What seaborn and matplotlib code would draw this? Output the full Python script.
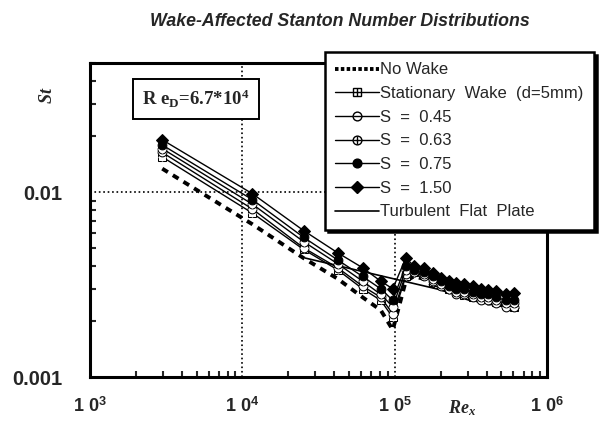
import numpy as np
import matplotlib
matplotlib.use('Agg')
import matplotlib.pyplot as plt
import seaborn as sns
from matplotlib.lines import Line2D
from matplotlib.ticker import LogLocator, NullFormatter

# Re_x stations
re_x = [2980, 11650, 25200, 42200, 61500, 80900, 97000, 118000, 133000, 155000,
        178000, 201000, 227000, 252000, 284000, 326000, 368000, 409000, 462000,
        537000, 607000]

st_nowake = [0.0134, 0.0067, 0.0044, 0.0034, 0.0027, 0.0023, 0.0018, 0.0033, 0.0035,
             0.0034, 0.0031, 0.0030, 0.0029, 0.0028, 0.0027, 0.0026, 0.0026, 0.0025,
             0.0025, 0.0024, 0.0023]
st_stationary = [0.0155, 0.0077, 0.0049, 0.0038, 0.0030, 0.0026, 0.0021, 0.0035, 0.0037,
                 0.0036, 0.00326, 0.00314, 0.0030, 0.00288, 0.00278, 0.0027, 0.0027,
                 0.00264, 0.00254, 0.00245, 0.00239]
st_s045 = [0.0164, 0.0081, 0.0050, 0.0039, 0.0031, 0.0027, 0.0022, 0.0036, 0.0037,
           0.0035, 0.0033, 0.0031, 0.0030, 0.0028, 0.0028, 0.0027, 0.0026, 0.0026,
           0.0025, 0.0024, 0.0024]
st_s063 = [0.0172, 0.0086, 0.0054, 0.0041, 0.0033, 0.0028, 0.0024, 0.0038, 0.0037,
           0.0036, 0.0034, 0.0032, 0.0030, 0.0029, 0.0029, 0.0028, 0.0027, 0.0027,
           0.0026, 0.0025, 0.0025]
st_s075 = [0.0180, 0.0091, 0.0057, 0.0043, 0.0035, 0.0030, 0.0026, 0.0040, 0.0038,
           0.0037, 0.0035, 0.0033, 0.0031, 0.0030, 0.0030, 0.0029, 0.0028, 0.0028,
           0.0027, 0.0026, 0.0026]
st_s150 = [0.0192, 0.0098, 0.0062, 0.0047, 0.0039, 0.0033, 0.0030, 0.0044, 0.0040,
           0.0039, 0.00365, 0.00343, 0.0033, 0.00322, 0.0032, 0.0031, 0.0030, 0.00296,
           0.00292, 0.00280, 0.00285]

# turbulent flat plate correlation line (end points)
re_turb = [25900, 650000]
st_turb = [0.0044, 0.00236]

xticks = [1e3, 1e4, 1e5, 1e6]
xticklabels = [r'1 0$^{\mathrm{3}}$', r'1 0$^{\mathrm{4}}$', r'1 0$^{\mathrm{5}}$', r'1 0$^{\mathrm{6}}$']
yticks = [0.001, 0.01]
yticklabels = ['0.001', '0.01']

sns.set_style('ticks')
plt.rcParams['font.family'] = ['Liberation Sans', 'DejaVu Sans']
plt.rcParams['mathtext.fontset'] = 'custom'
plt.rcParams['mathtext.rm'] = 'Liberation Sans:bold'
plt.rcParams['mathtext.bf'] = 'Liberation Serif:bold'
plt.rcParams['mathtext.it'] = 'Liberation Serif:italic:bold'

fig = plt.figure(figsize=(6.08, 4.28), dpi=100)
ax = fig.add_axes([0.148, 0.119, 0.752, 0.734])
ax.set_xscale('log')
ax.set_yscale('log')

ms = 6.3
sns.lineplot(x=re_x, y=st_nowake, ax=ax, color='black', lw=2.8,
             linestyle=(0, (1.7, 1.5)), errorbar=None, zorder=2)
sns.lineplot(x=re_turb, y=st_turb, ax=ax, color='black', lw=1.2, errorbar=None, zorder=2)

# stationary wake: square with cross
sns.lineplot(x=re_x, y=st_stationary, ax=ax, color='black', lw=1, marker='s', ms=ms,
             mfc='white', mec='black', errorbar=None, zorder=3)
sns.lineplot(x=re_x, y=st_stationary, ax=ax, color='black', linestyle='none', marker='+',
             ms=ms, mew=1, errorbar=None, zorder=3)
# S = 0.45: circle with bar
sns.lineplot(x=re_x, y=st_s045, ax=ax, color='black', lw=1, marker='o', ms=ms,
             mfc='white', mec='black', errorbar=None, zorder=4)
sns.lineplot(x=re_x, y=st_s045, ax=ax, color='black', linestyle='none', marker='_',
             ms=ms, mew=1, errorbar=None, zorder=4)
# S = 0.63: circle with plus
sns.lineplot(x=re_x, y=st_s063, ax=ax, color='black', lw=1, marker='o', ms=ms,
             mfc='white', mec='black', errorbar=None, zorder=5)
sns.lineplot(x=re_x, y=st_s063, ax=ax, color='black', linestyle='none', marker='+',
             ms=ms, mew=1, errorbar=None, zorder=5)
# S = 0.75: filled circle
sns.lineplot(x=re_x, y=st_s075, ax=ax, color='black', lw=1, marker='o', ms=ms,
             mfc='black', mec='black', errorbar=None, zorder=6)
# S = 1.50: filled diamond
sns.lineplot(x=re_x, y=st_s150, ax=ax, color='black', lw=1, marker='D', ms=ms,
             mfc='black', mec='black', errorbar=None, zorder=7)

ax.set_xlim(1e3, 1e6)
ax.set_ylim(0.001, 0.05)
ax.set_xticks(xticks)
ax.set_xticklabels(xticklabels, fontsize=13, fontweight='bold')
ax.set_yticks(yticks)
ax.set_yticklabels(yticklabels, fontsize=14.5, fontweight='bold')
ax.xaxis.set_minor_locator(LogLocator(base=10, subs=np.arange(2, 10)))
ax.yaxis.set_minor_locator(LogLocator(base=10, subs=np.arange(2, 10)))
ax.xaxis.set_minor_formatter(NullFormatter())
ax.yaxis.set_minor_formatter(NullFormatter())
ax.tick_params(which='major', direction='in', length=0)
ax.tick_params(axis='x', which='major', pad=14)
ax.tick_params(axis='y', which='major', pad=20)
ax.tick_params(which='minor', direction='in', length=4, width=1.5)
ax.grid(which='major', linestyle=':', color='black', lw=1.2)
for sp in ax.spines.values():
    sp.set_linewidth(2.2)
    sp.set_color('black')
ax.set_xlabel('')
ax.set_ylabel('')

fig.text(340 / 608, 1 - 22 / 428, 'Wake-Affected Stanton Number Distributions',
         ha='center', va='center', fontsize=12.8, fontweight='bold', style='italic')
fig.text(47 / 608, 1 - 95 / 428, r'$St$', rotation=90, ha='center', va='center', fontsize=13)
fig.text(462 / 608, 1 - 408 / 428, r'$Re_x$', ha='center', va='center', fontsize=13)

ax.text(0.232, 0.885, r'R e$_{\mathbf{D}}$=6.7*10$^{\mathbf{4}}$', transform=ax.transAxes,
        ha='center', va='center', family='Liberation Serif', fontweight='bold', fontsize=13.5,
        bbox=dict(boxstyle='square,pad=0.5', fc='white', ec='black', lw=1.4), zorder=10)

handles = [
    Line2D([], [], color='black', lw=2.8, linestyle=(0, (0.9, 0.6))),
    (Line2D([], [], color='black', lw=1, marker='s', ms=ms, mfc='white', mec='black'),
     Line2D([], [], color='black', linestyle='none', marker='+', ms=ms, mew=1)),
    (Line2D([], [], color='black', lw=1, marker='o', ms=ms, mfc='white', mec='black'),
     Line2D([], [], color='black', linestyle='none', marker='_', ms=ms, mew=1)),
    (Line2D([], [], color='black', lw=1, marker='o', ms=ms, mfc='white', mec='black'),
     Line2D([], [], color='black', linestyle='none', marker='+', ms=ms, mew=1)),
    Line2D([], [], color='black', lw=1, marker='o', ms=ms, mfc='black', mec='black'),
    Line2D([], [], color='black', lw=1, marker='D', ms=ms, mfc='black', mec='black'),
    Line2D([], [], color='black', lw=1.2),
]
labels = ['No Wake', 'Stationary  Wake  (d=5mm)', 'S  =  0.45', 'S  =  0.63',
          'S  =  0.75', 'S  =  1.50', 'Turbulent  Flat  Plate']
leg = fig.legend(handles, labels, loc='upper left', bbox_to_anchor=(325 / 608, 1 - 52 / 428),
                 fontsize=12, frameon=True, fancybox=False, framealpha=1,
                 edgecolor='black', handlelength=2.6, handletextpad=0.1,
                 labelspacing=0.52, borderpad=0.62, borderaxespad=0,
                 shadow={'color': 'black', 'alpha': 1})
leg.get_frame().set_linewidth(1.8)

fig.savefig('out.png', dpi=100)
